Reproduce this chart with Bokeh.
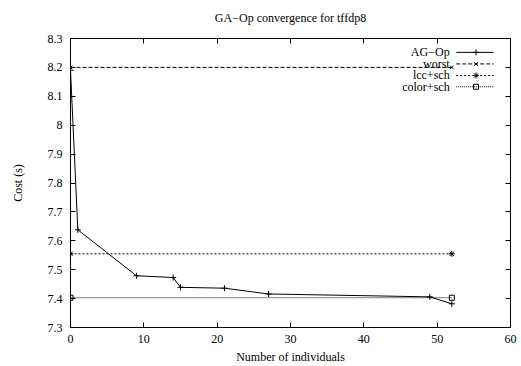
from bokeh.plotting import figure
from bokeh.models import Range1d, LinearAxis, FixedTicker, CustomJSTickFormatter, Label
from bokeh.embed import file_html
from bokeh.resources import INLINE

# ---- data ----
ag_x = [0, 1, 9, 14, 15, 21, 27, 49, 52]
ag_y = [8.19, 7.638, 7.479, 7.473, 7.439, 7.436, 7.416, 7.406, 7.382]
ref_x = [0, 52]
worst_y = [8.2, 8.2]
lcc_y = [7.555, 7.555]
color_y = [7.403, 7.403]
x_ticks = [0, 10, 20, 30, 40, 50, 60]
y_ticks = [7.3, 7.4, 7.5, 7.6, 7.7, 7.8, 7.9, 8.0, 8.1, 8.2, 8.3]
legend_labels = ["AG\u2212Op", "worst", "lcc+sch", "color+sch"]
title_text = "GA\u2212Op convergence for tffdp8"

FONT = "Liberation Serif"
FS = "12px"

p = figure(width=521, height=366, x_range=Range1d(0, 60), y_range=Range1d(7.3, 8.3),
           output_backend="svg", toolbar_location=None,
           min_border_left=70, min_border_right=11, min_border_top=38, min_border_bottom=38,
           title=title_text)
p.title.align = "center"
p.title.text_font = FONT
p.title.text_font_size = FS
p.title.text_font_style = "normal"
p.title.text_color = "black"
p.title.standoff = 10
p.xgrid.visible = False
p.ygrid.visible = False
p.outline_line_color = "black"
p.outline_line_width = 1
p.background_fill_color = "white"
p.border_fill_color = "white"

fmt = CustomJSTickFormatter(code="return Number(tick.toFixed(1)).toString();")
blank = CustomJSTickFormatter(code="return '';")

for ax, ticks in ((p.xaxis[0], x_ticks), (p.yaxis[0], y_ticks)):
    ax.ticker = FixedTicker(ticks=ticks)
    ax.major_tick_in = 5
    ax.major_tick_out = 0
    ax.minor_tick_line_color = None
    ax.major_label_text_font = FONT
    ax.major_label_text_font_size = FS
    ax.major_label_text_color = "black"
    ax.axis_label_text_font = FONT
    ax.axis_label_text_font_size = FS
    ax.axis_label_text_font_style = "normal"
    ax.axis_label_text_color = "black"
    ax.axis_line_color = "black"
    ax.major_tick_line_color = "black"
p.yaxis[0].formatter = fmt
p.xaxis[0].axis_label = "Number of individuals"
p.yaxis[0].axis_label = "Cost (s)"
p.xaxis[0].major_label_standoff = 7
p.xaxis[0].axis_label_standoff = 4
p.yaxis[0].major_label_standoff = 8
p.yaxis[0].axis_label_standoff = 20

# mirror ticks
for loc, ticks in (("above", x_ticks), ("right", y_ticks)):
    ax = LinearAxis(ticker=FixedTicker(ticks=ticks), formatter=blank, major_tick_in=5, major_tick_out=0,
                    minor_tick_line_color=None, major_label_standoff=0,
                    axis_line_color="black", major_tick_line_color="black")
    p.add_layout(ax, loc)
# invisible spacer axis that lifts the title
spacer = LinearAxis(ticker=FixedTicker(ticks=x_ticks), formatter=blank, major_tick_in=0, major_tick_out=9,
                    minor_tick_line_color=None, major_label_standoff=0,
                    axis_line_color=None, major_tick_line_color=None)
p.add_layout(spacer, "above")

# ---- series ----
p.line(ag_x, ag_y, line_color="black", line_width=1)
p.scatter(ag_x, ag_y, marker="cross", size=6, line_color="black")
p.line(ref_x, worst_y, line_color="black", line_width=1, line_dash="4 2")
p.scatter(ref_x, worst_y, marker="x", size=5, line_color="black")
p.line(ref_x, lcc_y, line_color="black", line_width=1, line_dash="2 2")
p.scatter(ref_x, lcc_y, marker="asterisk", size=6, line_color="black")
p.line(ref_x, color_y, line_color="black", line_width=1, line_dash="1 1")
p.scatter(ref_x, color_y, marker="square", size=5, line_color="black", fill_color=None)

# ---- gnuplot-style key (layout positions) ----
key_rows = [8.252, 8.212, 8.172, 8.133]
key_text_x = 51.7
key_x0, key_x1, key_xm = 52.6, 57.7, 55.3
styles = [("solid", "cross", 6), ("4 2", "x", 5), ("2 2", "asterisk", 6), ("1 1", "square", 5)]
for lab, yk, (dash, mk, sz) in zip(legend_labels, key_rows, styles):
    p.add_layout(Label(x=key_text_x, y=yk, text=lab, text_align="right", text_baseline="middle",
                       text_font=FONT, text_font_size=FS, text_color="black"))
    p.line([key_x0, key_x1], [yk, yk], line_color="black", line_width=1, line_dash=dash)
    p.scatter([key_xm], [yk], marker=mk, size=sz, line_color="black", fill_color=None)

open("out.html", "w").write(file_html(p, INLINE))
